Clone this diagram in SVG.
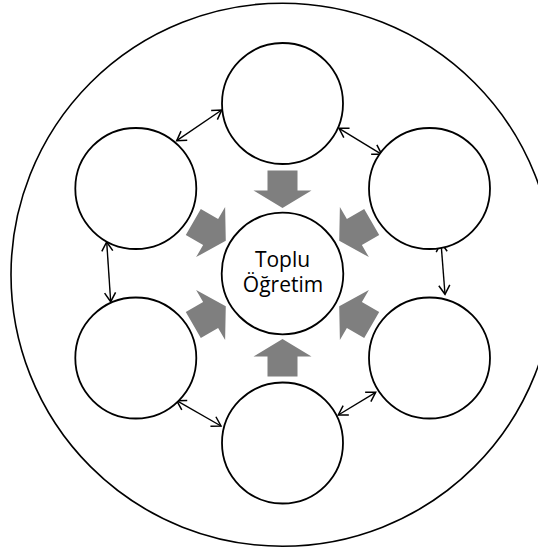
<svg xmlns="http://www.w3.org/2000/svg" width="538" height="549" viewBox="0 0 538 549">
<style>
.c{fill:#fff;stroke:#000;stroke-width:1.8}
.o{fill:none;stroke:#000;stroke-width:1.6}
.ba{fill:#7f7f7f;stroke:none}
.ln{fill:none;stroke:#000;stroke-width:1.4;marker-start:url(#ah);marker-end:url(#ah)}
.t{font-family:"Open Sans","Noto Sans",sans-serif;font-size:21px;fill:#000;text-anchor:middle}
</style>
<defs>
<marker id="ah" markerUnits="userSpaceOnUse" markerWidth="14" markerHeight="14" refX="0" refY="0" viewBox="-12 -7 14 14" orient="auto-start-reverse">
<path d="M-9,-5.5 L0,0 L-9,5.5" fill="none" stroke="#000" stroke-width="1.5"/>
</marker>
<path id="blk" d="M-103,-15 L-83,-15 L-83,-29 L-65.5,0 L-83,29 L-83,15 L-103,15 Z"/>
</defs>
<rect width="538" height="549" fill="#fff"/>
<g id="outer"><circle class="o" cx="282.5" cy="274.7" r="271.5"/></g>
<g id="connectors">
<line class="ln" x1="221.7" y1="110" x2="176.7" y2="140.7"/>
<line class="ln" x1="339" y1="128.3" x2="381.7" y2="154.3"/>
<line class="ln" x1="106.7" y1="242" x2="110.7" y2="301.7"/>
<line class="ln" x1="441" y1="242.7" x2="445" y2="294.3"/>
<line class="ln" x1="176.7" y1="400.7" x2="221" y2="426"/>
<line class="ln" x1="375.7" y1="392.3" x2="338.3" y2="415"/>
</g>
<g id="block-arrows" transform="translate(282.5,273.5)">
<use href="#blk" class="ba" transform="rotate(90)"/>
<use href="#blk" class="ba" transform="rotate(30)"/>
<use href="#blk" class="ba" transform="rotate(150)"/>
<use href="#blk" class="ba" transform="rotate(-150)"/>
<use href="#blk" class="ba" transform="rotate(-90)"/>
<use href="#blk" class="ba" transform="rotate(-30)"/>
</g>
<g id="node-top"><circle class="c" cx="282.5" cy="103.5" r="60.5"/></g>
<g id="node-upper-left"><circle class="c" cx="135.8" cy="188.5" r="60.5"/></g>
<g id="node-upper-right"><circle class="c" cx="429.5" cy="188.5" r="60.5"/></g>
<g id="node-lower-left"><circle class="c" cx="135.8" cy="358" r="60.5"/></g>
<g id="node-lower-right"><circle class="c" cx="429.5" cy="358" r="60.5"/></g>
<g id="node-bottom"><circle class="c" cx="282.5" cy="443" r="60.5"/></g>
<g id="node-center">
<circle class="c" cx="282.5" cy="273.5" r="60.8"/>
<text class="t" x="282.5" y="266.7">Toplu</text>
<text class="t" x="283" y="292.3">Öğretim</text>
</g>
</svg>
